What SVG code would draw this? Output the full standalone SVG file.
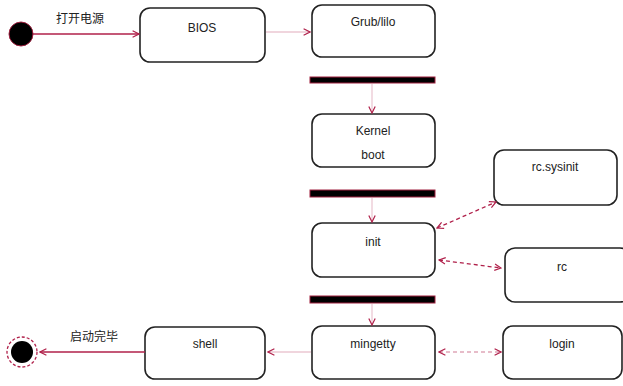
<svg xmlns="http://www.w3.org/2000/svg" width="623" height="386" viewBox="0 0 623 386">
<defs>
<marker id="arr" viewBox="0 0 10 10" refX="9" refY="5" markerWidth="8" markerHeight="8" orient="auto-start-reverse" markerUnits="userSpaceOnUse">
<path d="M1,1 L9,5 L1,9" fill="none" stroke="#b0204a" stroke-width="1.5"/>
</marker>
</defs>
<style>
.st{fill:#fff;stroke:#222;stroke-width:1.6}
.bar{fill:#000;stroke:#a0203f;stroke-width:1}
.t{font-family:"Liberation Sans",Arial,"Noto Sans CJK SC",sans-serif;font-size:12px;fill:#222;text-anchor:middle}
.c{stroke:#b0204a;stroke-width:1.3;fill:none}
.d{stroke-dasharray:4 3}
</style>
<rect width="623" height="386" fill="#fff"/>
<g id="start"><circle cx="21" cy="34" r="12" fill="#000" stroke="#a0203f" stroke-width="1"/></g>
<g id="bios"><rect class="st" x="140" y="8" width="125" height="54" rx="10"/><text class="t" x="202" y="32">BIOS</text></g>
<g id="grub"><rect class="st" x="312" y="5" width="123" height="52" rx="10"/><text class="t" x="373" y="26">Grub/lilo</text></g>
<g id="bar1"><rect class="bar" x="310" y="77" width="125" height="6"/></g>
<g id="kernel"><rect class="st" x="312" y="114" width="123" height="53" rx="10"/><text class="t" x="373" y="135">Kernel</text><text class="t" x="373" y="159">boot</text></g>
<g id="bar2"><rect class="bar" x="310" y="190" width="125" height="7"/></g>
<g id="init"><rect class="st" x="312" y="223" width="123" height="54" rx="10"/><text class="t" x="373" y="246">init</text></g>
<g id="bar3"><rect class="bar" x="310" y="296" width="125" height="7"/></g>
<g id="mingetty"><rect class="st" x="312" y="326" width="123" height="53" rx="10"/><text class="t" x="373" y="348">mingetty</text></g>
<g id="sysinit"><rect class="st" x="494" y="150" width="123" height="55" rx="10"/><text class="t" x="555" y="171">rc.sysinit</text></g>
<g id="rc"><rect class="st" x="505" y="248" width="125" height="54" rx="10"/><text class="t" x="562" y="271">rc</text></g>
<g id="login"><rect class="st" x="503" y="326" width="119" height="53" rx="10"/><text class="t" x="562" y="348">login</text></g>
<g id="shell"><rect class="st" x="145" y="327" width="120" height="52" rx="10"/><text class="t" x="205" y="348">shell</text></g>
<g id="end"><circle cx="22" cy="352" r="15" fill="none" stroke="#b0204a" stroke-width="1.3" stroke-dasharray="3 2"/><circle cx="22" cy="352" r="11" fill="#000"/></g>
<g id="connectors">
<line class="c" x1="33" y1="34" x2="139" y2="34" marker-end="url(#arr)"/>
<text class="t" x="80" y="23">打开电源</text>
<line class="c" x1="266" y1="32" x2="310" y2="32" marker-end="url(#arr)" stroke-opacity="0.25"/>
<line class="c" x1="372" y1="84" x2="372" y2="113" marker-end="url(#arr)" stroke-opacity="0.25"/>
<line class="c" x1="372" y1="198" x2="372" y2="222" marker-end="url(#arr)" stroke-opacity="0.25"/>
<line class="c" x1="372" y1="304" x2="372" y2="325" marker-end="url(#arr)" stroke-opacity="0.25"/>
<line class="c d" x1="437" y1="228" x2="496" y2="202" marker-start="url(#arr)" marker-end="url(#arr)"/>
<line class="c d" x1="439" y1="260" x2="501" y2="268" marker-start="url(#arr)" marker-end="url(#arr)"/>
<line class="c d" x1="439" y1="352" x2="501" y2="352" marker-start="url(#arr)" marker-end="url(#arr)" stroke-opacity="0.4"/>
<line class="c" x1="311" y1="352" x2="268" y2="352" marker-end="url(#arr)" stroke-opacity="0.25"/>
<line class="c" x1="145" y1="352" x2="40" y2="352" marker-end="url(#arr)"/>
<text class="t" x="94" y="341">启动完毕</text>
</g>
</svg>
